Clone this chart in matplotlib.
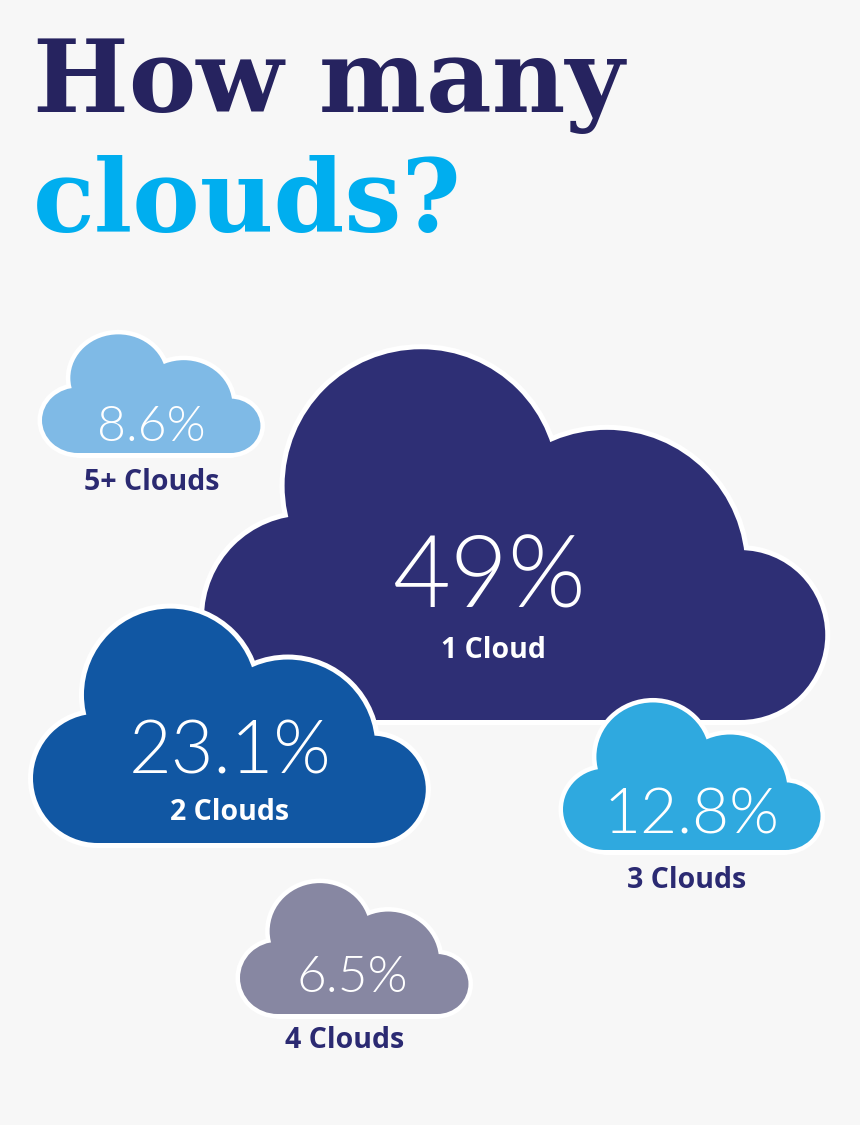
import matplotlib
matplotlib.use("Agg")
import matplotlib.pyplot as plt
from matplotlib.patches import Ellipse, Rectangle
from matplotlib import font_manager as fm

# ---------------- data ----------------
categories = ["1 Cloud", "2 Clouds", "3 Clouds", "4 Clouds", "5+ Clouds"]
shares = [49, 23.1, 12.8, 6.5, 8.6]
title_line1 = "How many"
title_line2 = "clouds?"

# ---------------- layout / style ----------------
BG = "#f7f7f7"
NAVY = "#26235f"
CYAN = "#00aeef"
LABEL_NAVY = "#2b2a72"
cloud_colors = ["#2e2f75", "#1157a3", "#2fa9df", "#8787a2", "#7fbae6"]
cloud_left = [204, 33, 563, 240, 42]
cloud_bottom = [720, 843, 850, 1014, 453]
cloud_width = [620, 392, 257, 228, 218]
cloud_vscale = [1.0, 1.0, 0.96, 0.96, 0.91]
outline_px = [5, 5, 4.5, 4.5, 4.5]
pct_xy = [(490, 607), (230, 773), (692, 833), (352, 992), (151, 441)]
pct_size = [72, 53, 46, 37, 36]
label_xy = [(493, 658), (230, 820), (687, 888), (345, 1048), (152, 490)]
label_colors = ["white", "white", LABEL_NAVY, LABEL_NAVY, LABEL_NAVY]
label_size = 20.5

# normalized cloud shape: circles (u, v, r) in units of cloud width, v measured up from bottom
SHAPE_CIRCLES = [(0.165, 0.165, 0.165), (0.350, 0.378, 0.220),
                 (0.650, 0.245, 0.223), (0.865, 0.137, 0.137)]
SHAPE_RECT = (0.165, 0.865, 0.0, 0.20)

DPI = 100


def _w(f):
    w = f.weight
    if isinstance(w, str):
        w = fm.weight_dict.get(w, 400)
    return w


def pick_font(families, target, fallback):
    for fam in families:
        cands = [f for f in fm.fontManager.ttflist
                 if f.name == fam and f.style == "normal" and _w(f) == target]
        if cands:
            return fm.FontProperties(fname=cands[0].fname)
    return fm.FontProperties(family=fallback[0], weight=fallback[1])


light_fp = pick_font(["Lato", "Roboto", "Open Sans", "Inter", "Noto Sans"], 300,
                     ("DejaVu Sans", "light"))
bold_fp = pick_font(["Noto Sans", "Open Sans", "Lato", "Roboto"], 700,
                    ("DejaVu Sans", "bold"))
title_fp = fm.FontProperties(family="DejaVu Serif", weight="bold")

fig = plt.figure(figsize=(860 / DPI, 1125 / DPI), dpi=DPI)
fig.patch.set_facecolor(BG)
ax = fig.add_axes([0, 0, 1, 1])
ax.set_xlim(0, 860)
ax.set_ylim(1125, 0)
ax.axis("off")


def draw_cloud(ax, x0, yb, W, sy, color, opx, z):
    lw = 2 * opx * 72 / DPI
    parts = []
    for (u, v, r) in SHAPE_CIRCLES:
        parts.append(("e", x0 + u * W, yb - v * W * sy, 2 * r * W, 2 * r * W * sy))
    u0, u1, v0, v1 = SHAPE_RECT
    parts.append(("r", x0 + u0 * W, yb - v1 * W * sy, (u1 - u0) * W, (v1 - v0) * W * sy))
    for fill, edge, lww, zz in [("white", "white", lw, z), (color, "none", 0, z + 0.5)]:
        for p in parts:
            if p[0] == "e":
                patch = Ellipse((p[1], p[2]), p[3], p[4], facecolor=fill, edgecolor=edge,
                                linewidth=lww, zorder=zz)
            else:
                patch = Rectangle((p[1], p[2]), p[3], p[4], facecolor=fill, edgecolor=edge,
                                  linewidth=lww, zorder=zz, joinstyle="round")
            ax.add_patch(patch)


for i in range(len(categories)):
    draw_cloud(ax, cloud_left[i], cloud_bottom[i], cloud_width[i], cloud_vscale[i],
               cloud_colors[i], outline_px[i], 2 + i)

for i, (cat, val) in enumerate(zip(categories, shares)):
    fp = light_fp.copy()
    fp.set_size(pct_size[i])
    ax.text(pct_xy[i][0], pct_xy[i][1], f"{val:g}%", fontproperties=fp, color="white",
            ha="center", va="baseline", zorder=20)
    fp2 = bold_fp.copy()
    fp2.set_size(label_size)
    ax.text(label_xy[i][0], label_xy[i][1], cat, fontproperties=fp2, color=label_colors[i],
            ha="center", va="baseline", zorder=20)

tfp = title_fp.copy()
tfp.set_size(73)
ax.text(33, 112, title_line1, fontproperties=tfp, color=NAVY, ha="left", va="baseline")
ax.text(33, 232, title_line2, fontproperties=tfp, color=CYAN, ha="left", va="baseline")

fig.savefig("out.png", dpi=DPI, facecolor=BG)
